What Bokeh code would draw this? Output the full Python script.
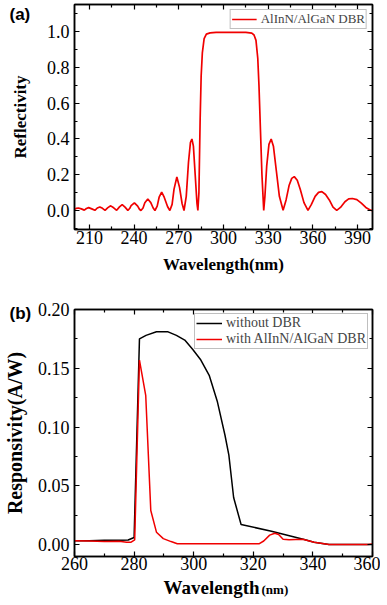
from bokeh.plotting import figure
from bokeh.models import (Range1d, LinearAxis, FixedTicker, Legend, LegendItem,
                          Title, NumeralTickFormatter, CustomJSTickFormatter)
from bokeh.layouts import column
from bokeh.embed import file_html
from bokeh.resources import INLINE

# ---------------- data: panel (a) reflectivity ----------------
wl_a = [200, 201.3, 202.6, 204.6, 206.6, 208, 209.5, 211.6, 213.7, 215.3, 217, 218.8,
        220.5, 222.4, 224.3, 226.3, 228.3, 230.2, 232, 233.9, 235.8, 237.0, 238.0, 240.2,
        242.4, 243.6, 244.6, 246.0, 247.2, 249.2, 251.2, 252.8, 254, 255.5, 256.8, 258.5,
        260.2, 262.5, 264, 265.5, 266.8, 268.7, 270.5, 272.2, 273.5, 275, 276.5, 277.8,
        278.8, 279.8, 281, 282.2, 282.8, 283.5, 284.3, 285.0, 285.8, 287, 288.5, 291,
        295, 305, 315, 319, 320.5, 321.8, 323, 323.8, 324.8, 325.8, 327, 327.8, 329,
        330.5, 332, 333.5, 335.5, 337.5, 340, 342, 344, 345.8, 347.5, 349.5, 351.5, 354,
        356.7, 359, 361.5, 363.8, 366, 368.5, 371, 373.5, 376, 378.5, 381.5, 384, 386.5,
        389.5, 392.5, 395.5, 398.7, 400]
refl_a = [0.008, 0.013, 0.015, 0.010, 0.003, 0.012, 0.017, 0.010, 0.002, 0.015, 0.021, 0.013,
          0.002, 0.017, 0.027, 0.016, 0.002, 0.021, 0.034, 0.020, 0.002, 0.012, 0.028, 0.044,
          0.025, 0.008, 0.001, 0.015, 0.044, 0.065, 0.045, 0.015, 0.001, 0.025, 0.075, 0.104,
          0.075, 0.022, 0.001, 0.035, 0.12, 0.188, 0.13, 0.04, 0.001, 0.08, 0.27, 0.38,
          0.40, 0.36, 0.20, 0.04, 0.001, 0.10, 0.50, 0.75, 0.88, 0.96, 0.985, 0.992,
          0.995, 0.995, 0.995, 0.99, 0.98, 0.95, 0.85, 0.70, 0.45, 0.20, 0.001, 0.08, 0.25,
          0.37, 0.40, 0.36, 0.22, 0.08, 0.002, 0.06, 0.14, 0.18, 0.19, 0.17, 0.12, 0.045,
          0.002, 0.035, 0.08, 0.102, 0.106, 0.09, 0.06, 0.02, 0.002, 0.018, 0.05, 0.066, 0.068,
          0.062, 0.042, 0.018, 0.003, 0.0]

# ---------------- data: panel (b) responsivity ----------------
wl_nodbr = [260, 265, 270, 275, 278, 280, 281.8, 284, 287.5, 291.4, 294.2, 297, 299.7,
            302.4, 305.2, 307.9, 310.5, 311.8, 313.4, 315.9, 326.1, 337.1, 340.4, 345.4, 360]
resp_nodbr = [0.0032, 0.0033, 0.0036, 0.0037, 0.0038, 0.006, 0.175, 0.178, 0.181, 0.181,
              0.178, 0.174, 0.166, 0.157, 0.144, 0.122, 0.093, 0.076, 0.040, 0.017, 0.0113,
              0.0043, 0.002, 0.0, 0.0]
wl_dbr = [260, 265, 270, 275, 277.5, 279, 280.2, 281.8, 283.9, 285.6, 287.5, 289.8, 292.4,
          294.5, 321.9, 323.5, 325.5, 327.2, 328.5, 330, 332, 336.6, 340.4, 345.4, 358.5, 360]
resp_dbr = [0.0032, 0.003, 0.0026, 0.0028, 0.002, 0.002, 0.004, 0.157, 0.127, 0.029, 0.0105,
            0.005, 0.0025, 0.0006, 0.0006, 0.003, 0.008, 0.0096, 0.0085, 0.0045, 0.004, 0.0045,
            0.002, 0.0, 0.0, 0.0005]

# ticks
xa_major = [210, 240, 270, 300, 330, 360, 390]
xa_minor = [225, 255, 285, 315, 345, 375]
ya_major = [0.0, 0.2, 0.4, 0.6, 0.8, 1.0]
ya_minor = [-0.1, 0.1, 0.3, 0.5, 0.7, 0.9, 1.1]
xb_major = [260, 280, 300, 320, 340, 360]
xb_minor = [270, 290, 310, 330, 350]
yb_major = [0.0, 0.05, 0.10, 0.15, 0.20]
yb_minor = [0.025, 0.075, 0.125, 0.175]

RED = "#f00000"
SERIF = "Liberation Serif"
SANS = "Liberation Sans"


def style_axis(ax, major, minor, labels=True, fmt=None):
    ax.ticker = FixedTicker(ticks=major, minor_ticks=minor)
    ax.axis_line_color = "black"
    ax.axis_line_width = 1.5
    ax.major_tick_in = 5
    ax.major_tick_out = 0
    ax.minor_tick_in = 3
    ax.minor_tick_out = 0
    ax.major_tick_line_color = "black"
    ax.minor_tick_line_color = "black"
    ax.major_tick_line_width = 1.2
    ax.minor_tick_line_width = 1.2
    ax.major_label_text_font = SERIF
    ax.major_label_text_color = "black"
    if labels:
        if fmt is not None:
            ax.formatter = NumeralTickFormatter(format=fmt)
        ax.major_label_text_font_size = "18px"
        ax.major_label_standoff = 5
    else:
        ax.formatter = CustomJSTickFormatter(code="return ''")
        ax.major_label_text_font_size = "1px"
        ax.major_label_standoff = 0
    ax.axis_label_text_font = SERIF
    ax.axis_label_text_font_style = "bold"
    ax.axis_label_text_color = "black"


def base_fig(h, xr, yr, top, bottom):
    p = figure(width=380, height=h, x_range=Range1d(*xr), y_range=Range1d(*yr),
               output_backend="svg", toolbar_location=None,
               min_border_left=70, min_border_right=8, min_border_top=top,
               min_border_bottom=bottom)
    p.xgrid.visible = False
    p.ygrid.visible = False
    p.outline_line_color = "black"
    p.outline_line_width = 1.5
    p.background_fill_color = "white"
    p.border_fill_color = "white"
    return p


def panel_tag(text, standoff):
    return Title(text=text, align="left", offset=-65, vertical_align="bottom",
                 standoff=standoff, text_font=SANS, text_font_style="bold",
                 text_font_size="17px", text_color="black")


# ---------------- panel (a) ----------------
pa = base_fig(278, (200, 400), (-0.105, 1.15), 4, 49)
pa.title = panel_tag("(a)", -38)
style_axis(pa.xaxis[0], xa_major, xa_minor)
style_axis(pa.yaxis[0], ya_major, ya_minor, fmt="0.0")
pa.xaxis[0].major_label_standoff = 1
pa.xaxis[0].axis_label = "Wavelength(nm)"
pa.xaxis[0].axis_label_text_font_size = "17px"
pa.xaxis[0].axis_label_standoff = 8
pa.yaxis[0].axis_label = "Reflectivity"
pa.yaxis[0].axis_label_text_font_size = "17px"
pa.yaxis[0].axis_label_standoff = 14
ta = LinearAxis()
style_axis(ta, xa_major, xa_minor, labels=False)
pa.add_layout(ta, "above")
ra_ax = LinearAxis()
style_axis(ra_ax, ya_major, ya_minor, labels=False)
pa.add_layout(ra_ax, "right")

line_a = pa.line(wl_a, refl_a, line_color=RED, line_width=1.7)
leg_a = Legend(items=[LegendItem(label="AlInN/AlGaN DBR", renderers=[line_a])],
               location="top_right", margin=5, padding=1, spacing=0,
               glyph_width=25, glyph_height=12, label_height=12, label_standoff=4,
               label_text_font=SERIF, label_text_font_size="13px",
               border_line_color="#808080", border_line_width=1,
               background_fill_color="white", background_fill_alpha=1)
pa.add_layout(leg_a)

# ---------------- panel (b) ----------------
pb = base_fig(326, (260, 360), (-0.0102, 0.20), 31, 48)
pb.title = panel_tag("(b)", -26)
style_axis(pb.xaxis[0], xb_major, xb_minor)
style_axis(pb.yaxis[0], yb_major, yb_minor, fmt="0.00")
pb.xaxis[0].major_label_standoff = 0
pb.yaxis[0].axis_label = "Responsivity(A/W)"
pb.yaxis[0].axis_label_text_font_size = "20px"
pb.yaxis[0].axis_label_standoff = 9
tb = LinearAxis()
style_axis(tb, xb_major, xb_minor, labels=False)
pb.add_layout(tb, "above")
rb = LinearAxis()
style_axis(rb, yb_major, yb_minor, labels=False)
pb.add_layout(rb, "right")
pb.add_layout(Title(text="Wavelength", align="left", offset=89, vertical_align="bottom",
                    standoff=4, text_font=SERIF, text_font_style="bold",
                    text_font_size="19px", text_color="black"), "below")
pb.add_layout(Title(text="(nm)", align="left", offset=187, vertical_align="top",
                    standoff=-35, text_font=SERIF, text_font_style="bold",
                    text_font_size="13px", text_color="black"), "below")

line_k = pb.line(wl_nodbr, resp_nodbr, line_color="black", line_width=1.5)
line_r = pb.line(wl_dbr, resp_dbr, line_color=RED, line_width=1.5)
leg_b = Legend(items=[LegendItem(label="without DBR", renderers=[line_k]),
                      LegendItem(label="with AlInN/AlGaN DBR", renderers=[line_r])],
               location="top_right", margin=4, padding=1, spacing=0,
               glyph_width=26, glyph_height=14, label_height=14, label_standoff=4,
               label_text_font=SERIF, label_text_font_size="14px",
               border_line_color="#808080", border_line_width=1,
               background_fill_color="white", background_fill_alpha=1)
pb.add_layout(leg_b)

layout = column(pa, pb, spacing=0)
open("out.html", "w").write(file_html(layout, INLINE))
